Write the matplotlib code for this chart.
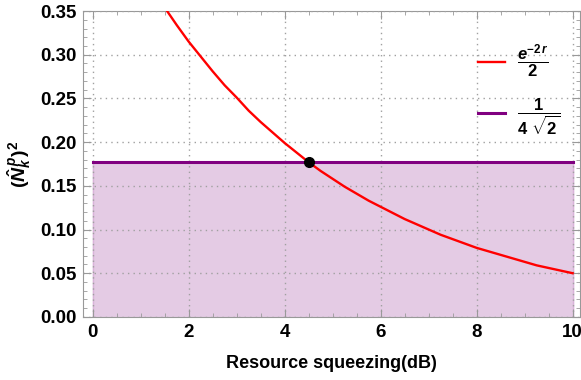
import matplotlib.pyplot as plt
import numpy as np

plt.rcParams['font.family'] = 'Liberation Sans'
plt.rcParams['font.weight'] = 'bold'
plt.rcParams['mathtext.fontset'] = 'custom'
plt.rcParams['mathtext.rm'] = 'Liberation Sans:bold'
plt.rcParams['mathtext.it'] = 'Liberation Sans:italic:bold'
plt.rcParams['mathtext.bf'] = 'Liberation Sans:bold'

# squeezing curve (dB -> value)
sq_db = [1.25, 1.5, 1.75, 2.0, 2.25, 2.5, 2.75, 3.0, 3.25, 3.5, 3.75, 4.0, 4.25, 4.5,
         4.75, 5.0, 5.25, 5.5, 5.75, 6.0, 6.25, 6.5, 6.75, 7.0, 7.25, 7.5, 7.75, 8.0,
         8.25, 8.5, 8.75, 9.0, 9.25, 9.5, 9.75, 10.0]
sq_val = [0.375, 0.354, 0.334, 0.315, 0.298, 0.281, 0.265, 0.251, 0.236, 0.223, 0.211,
          0.199, 0.188, 0.177, 0.167, 0.158, 0.149, 0.141, 0.133, 0.126, 0.119, 0.112,
          0.106, 0.100, 0.094, 0.089, 0.084, 0.079, 0.075, 0.071, 0.067, 0.063, 0.059,
          0.056, 0.053, 0.050]

# threshold level
thr_x = [0, 10]
thr_y = [0.1768, 0.1768]

# crossing point
cross_x = [4.515]
cross_y = [0.1768]

red = '#FF0000'
purple = '#800080'
fill_col = '#E4CBE4'

fig = plt.figure(figsize=(5.81, 3.80), dpi=100)
ax = fig.add_axes([0.143, 0.166, 0.855, 0.805])

ax.fill_between(thr_x, 0, thr_y, color=fill_col, zorder=1)
ax.plot([0, 0], [0, thr_y[0]], color='#D9B3D9', lw=1.0, zorder=1.5)
ax.plot([10, 10], [0, thr_y[0]], color='#D9B3D9', lw=1.0, zorder=1.5)
ax.plot(sq_db, sq_val, color=red, lw=1.7, label=r'$\dfrac{e^{-2\,r}}{2}$', zorder=3)
ax.plot(thr_x, thr_y, color=purple, lw=2.2, label=r'$\dfrac{1}{4\ \sqrt{2}}$', zorder=3)
ax.plot(cross_x, cross_y, 'o', color='black', ms=7, zorder=4)

ax.set_xlim(-0.2, 10.15)
ax.set_ylim(0, 0.35)
ax.set_xticks(np.arange(0, 11, 2))
ax.set_xticks(np.arange(0, 10.01, 0.5), minor=True)
ax.set_yticks(np.arange(0, 0.351, 0.05))
ax.set_yticks(np.arange(0, 0.351, 0.01), minor=True)
ax.yaxis.set_major_formatter(plt.FormatStrFormatter('%.2f'))

ax.grid(True, which='major', color='#A0A0A0', ls=(0, (1, 3)), lw=1.0)
ax.set_axisbelow(False)
for s in ax.spines.values():
    s.set_color('#999999')
ax.tick_params(which='both', direction='in', top=True, right=True, color='#999999',
               labelsize=13.5, pad=5)
ax.tick_params(which='major', length=6)
ax.tick_params(which='minor', length=3)
for lbl in ax.get_xticklabels() + ax.get_yticklabels():
    lbl.set_fontweight('bold')

ax.set_xlabel('Resource squeezing(dB)', fontsize=13, fontweight='bold', labelpad=10)
ax.set_ylabel(r'$(\hat{N}_k^{\,p})^2$', fontsize=14, labelpad=5)

leg = ax.legend(loc='upper right', bbox_to_anchor=(0.99, 0.945), frameon=False, fontsize=12,
                handlelength=1.6, labelspacing=1.0, handletextpad=0.7)

fig.savefig('out.png', dpi=100)
